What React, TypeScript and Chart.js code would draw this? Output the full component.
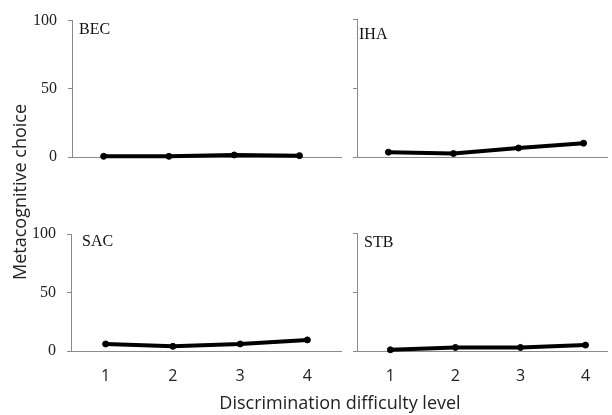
import React, { useEffect, useRef } from "react";
import { Chart, registerables } from "chart.js";

Chart.register(...registerables);

const levels = [1, 2, 3, 4];
const becValues = [0.5, 0.5, 1.5, 1.0];
const ihaValues = [3.5, 2.5, 6.5, 10];
const sacValues = [6, 4, 6, 9.5];
const stbValues = [1, 3, 3, 5];
const yTickValues = [0, 50, 100];
const xTitle = "Discrimination difficulty level";
const yTitle = "Metacognitive choice";

type Panel = {
  name: string;
  values: number[];
  left: number;
  top: number;
  width: number;
  height: number;
  yWidth: number;
  padTop: number;
  xHeight: number;
  xMin: number;
  xMax: number;
  showYLabels: boolean;
  showXLabels: boolean;
  labelDx: number;
  labelDy: number;
};

const panels: Panel[] = [
  { name: "BEC", values: becValues, left: 0, top: 0, width: 346, height: 178, yWidth: 72, padTop: 19, xHeight: 21, xMin: 0.515, xMax: 4.636, showYLabels: true, showXLabels: false, labelDx: 7, labelDy: 9 },
  { name: "IHA", values: ihaValues, left: 346, top: 0, width: 266, height: 178, yWidth: 11, padTop: 19, xHeight: 21, xMin: 0.518, xMax: 4.36, showYLabels: false, showXLabels: false, labelDx: 2, labelDy: 16 },
  { name: "SAC", values: sacValues, left: 0, top: 200, width: 346, height: 215, yWidth: 71, padTop: 34, xHeight: 64, xMin: 0.485, xMax: 4.5, showYLabels: true, showXLabels: true, labelDx: 11, labelDy: 8 },
  { name: "STB", values: stbValues, left: 346, top: 200, width: 266, height: 215, yWidth: 11, padTop: 33, xHeight: 64, xMin: 0.487, xMax: 4.33, showYLabels: false, showXLabels: true, labelDx: 7, labelDy: 10 },
];

const AXIS = "#8a8a8a";

function PanelChart({ p }: { p: Panel }) {
  const ref = useRef<HTMLCanvasElement | null>(null);
  useEffect(() => {
    if (!ref.current) return;
    const labelPlugin = {
      id: "panelLabel" + p.name,
      afterDraw(chart: any) {
        const { ctx, chartArea } = chart;
        ctx.save();
        ctx.font = "16px 'Liberation Serif'";
        ctx.fillStyle = "#111";
        ctx.textAlign = "left";
        ctx.textBaseline = "middle";
        ctx.fillText(p.name, chartArea.left + p.labelDx, chartArea.top + p.labelDy);
        ctx.restore();
      },
    };
    const chart = new Chart(ref.current, {
      type: "line",
      data: {
        datasets: [
          {
            data: levels.map((x, i) => ({ x, y: p.values[i] })),
            borderColor: "#000",
            backgroundColor: "#000",
            borderWidth: 4,
            pointRadius: 3,
            pointBorderWidth: 1,
            pointBackgroundColor: "#000",
            pointBorderColor: "#000",
            tension: 0,
            clip: false as any,
          },
        ],
      },
      options: {
        animation: false,
        responsive: false,
        maintainAspectRatio: false,
        layout: { padding: { top: p.padTop, left: 0, right: 0, bottom: 0 } },
        plugins: { legend: { display: false }, tooltip: { enabled: false }, title: { display: false } },
        scales: {
          x: {
            type: "linear",
            min: p.xMin,
            max: p.xMax,
            afterBuildTicks: (s: any) => {
              s.ticks = levels.map((v) => ({ value: v }));
            },
            afterFit: (s: any) => {
              s.height = p.xHeight;
            },
            grid: { display: false, drawTicks: false },
            border: { display: true, color: AXIS, width: 1 },
            ticks: {
              display: p.showXLabels,
              padding: 16,
              color: "#222",
              font: { family: "'Open Sans'", size: 16 },
              maxRotation: 0,
              autoSkip: false,
            },
          },
          y: {
            type: "linear",
            min: 0,
            max: 100,
            afterBuildTicks: (s: any) => {
              s.ticks = yTickValues.map((v) => ({ value: v }));
            },
            afterFit: (s: any) => {
              s.width = p.yWidth;
            },
            grid: { display: true, drawOnChartArea: false, drawTicks: true, tickLength: 4, color: AXIS },
            border: { display: true, color: AXIS, width: 1 },
            ticks: {
              display: p.showYLabels,
              padding: 11,
              color: "#222",
              font: { family: "'Liberation Serif'", size: 16 },
            },
          },
        },
      },
      plugins: [labelPlugin],
    } as any);
    return () => chart.destroy();
  }, [p]);
  return (
    <canvas
      ref={ref}
      width={p.width}
      height={p.height}
      style={{ position: "absolute", left: p.left, top: p.top, width: p.width, height: p.height }}
    />
  );
}

export default function App() {
  return (
    <div style={{ position: "fixed", left: 0, top: 0, width: 612, height: 415, background: "#fff", overflow: "hidden" }}>
      {panels.map((p) => (
        <PanelChart key={p.name} p={p} />
      ))}
      <div
        style={{
          position: "absolute",
          left: 19,
          top: 192,
          transform: "translate(-50%, -50%) rotate(-90deg)",
          whiteSpace: "nowrap",
          fontFamily: "'Open Sans', sans-serif",
          fontSize: 18,
          color: "#222",
        }}
      >
        {yTitle}
      </div>
      <div
        style={{
          position: "absolute",
          left: 340,
          top: 402,
          transform: "translate(-50%, -50%)",
          whiteSpace: "nowrap",
          fontFamily: "'Open Sans', sans-serif",
          fontSize: 18,
          color: "#222",
        }}
      >
        {xTitle}
      </div>
    </div>
  );
}
